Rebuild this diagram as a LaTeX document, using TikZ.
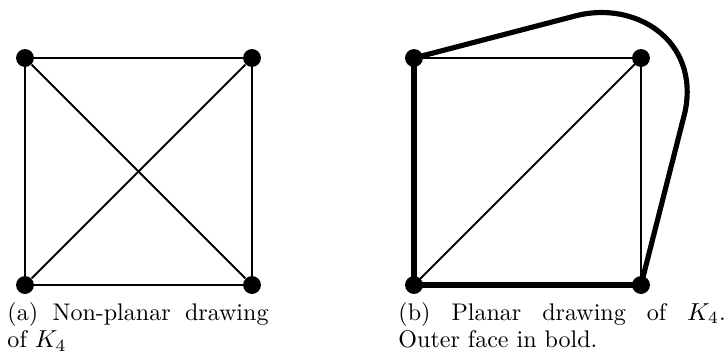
\documentclass[tikz,border=0pt]{standalone}
\begin{document}
\begin{tikzpicture}[x=0.408pt,y=-0.408pt,
  vtx/.style={circle,fill=black,inner sep=0pt,minimum size=7.3pt},
  thinedge/.style={line width=0.75pt},
  boldedge/.style={line width=2.1pt,line join=round},
  caption/.style={anchor=base west,inner sep=0pt,font=\fontsize{9.8}{11.4}\selectfont}]
\useasboundingbox (0,0) rectangle (728,356);
% left graph
\node[vtx] (a1) at (25,58) {};
\node[vtx] (a2) at (252,58) {};
\node[vtx] (a3) at (25,285) {};
\node[vtx] (a4) at (252,285) {};
\draw[thinedge] (a1) -- (a2) -- (a4) -- (a3) -- (a1);
\draw[thinedge] (a1) -- (a4);
\draw[thinedge] (a2) -- (a3);
% right graph
\coordinate (p1) at (414,58);
\coordinate (p2) at (641,58);
\coordinate (p3) at (414,285);
\coordinate (p4) at (641,285);
\coordinate (c1) at (575,16);
\coordinate (c2) at (685,112);
\draw[thinedge] (p1) -- (p2) -- (p4);
\draw[thinedge] (p2) -- (p3);
\draw[boldedge] (p1) -- (p3) -- (p4);
\draw[boldedge] (p1) -- (c1) .. controls (635,0) and (700,40) .. (c2) -- (p4);
\node[vtx] (b1) at (p1) {};
\node[vtx] (b2) at (p2) {};
\node[vtx] (b3) at (p3) {};
\node[vtx] (b4) at (p4) {};
% captions
\node[caption] (capa) at (7,320) {\parbox[t]{106.5pt}{(a)\hfill Non-planar\hfill drawing\\of $K_4$}};
\node[caption] (capb) at (398,320) {\parbox[t]{133.5pt}{(b)\hfill Planar\hfill drawing\hfill of\hfill $K_4$.\\Outer face in bold.}};
\end{tikzpicture}
\end{document}
